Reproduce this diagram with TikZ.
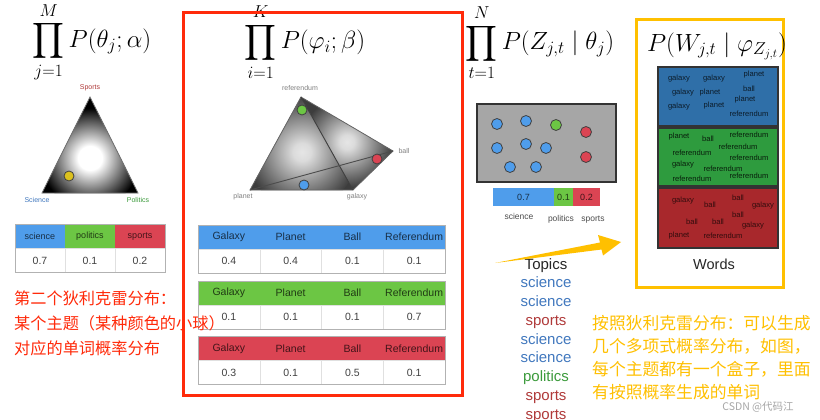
\documentclass[tikz,border=0pt]{standalone}
\usepackage{amsmath}
\usepackage[no-math]{fontspec}
\setmainfont{Liberation Sans}
\newfontfamily\cjk{Noto Sans CJK SC}
\usepackage{tikz}
\usetikzlibrary{positioning,calc}
\definecolor{BlueHead}{HTML}{4F9DEB}
\definecolor{GreenHead}{HTML}{6CC644}
\definecolor{RedHead}{HTML}{DB4453}
\definecolor{DotYellow}{HTML}{DCC11E}
\definecolor{FrameRed}{HTML}{FF2A0A}
\definecolor{FrameYellow}{HTML}{FFC000}
\definecolor{BoxGray}{HTML}{A6A6A6}
\definecolor{WordBlue}{HTML}{2F6FA8}
\definecolor{WordGreen}{HTML}{2E9B3E}
\definecolor{WordRed}{HTML}{A8282C}
\definecolor{TopicBlue}{HTML}{4178BE}
\definecolor{TopicRed}{HTML}{B03A3A}
\definecolor{TopicGreen}{HTML}{3C9B3C}
\pgfdeclareradialshading{simplexglow}{\pgfpoint{0bp}{0bp}}{color(0bp)=(white); color(6bp)=(white);
  color(25bp)=(black); color(50bp)=(black)}
\pgfdeclareradialshading{faceglow}{\pgfpoint{0bp}{0bp}}{color(0bp)=(black!10); color(4bp)=(black!14);
  color(25bp)=(black!76); color(50bp)=(black!76)}
\tikzset{
  formula/.style={inner sep=0, font=\fontsize{24.5}{30}\selectfont},
  hcell/.style={minimum height=24, inner sep=0, outer sep=0,
    font=\fontsize{10.5}{12}\selectfont},
  vcell/.style={hcell, draw=black!12, fill=white, text=black!75},
  tabframe/.style={draw=black!30, line width=.9pt},
  dot/.style={circle, draw=black!75, line width=.8pt, minimum size=10, inner sep=0},
  vertex/.style={inner sep=0, font=\fontsize{7}{8}\selectfont},
  wordbox/.style={draw=black!80, line width=2pt, minimum width=120, inner sep=0},
  word/.style={inner sep=0, font=\fontsize{7.6}{8}\selectfont},
  topic/.style={anchor=base, inner sep=0, font=\fontsize{15}{17}\selectfont},
  note/.style={anchor=north west, inner sep=0, align=left}
}

\begin{document}
\begin{tikzpicture}[x=1pt, y=-1pt]
  \useasboundingbox (0,0) rectangle (820,420);
  \fill[white] (0,0) rectangle (820,420);

  % first Dirichlet: topic simplex
  \node[formula] (fa) at (92,42) {$\displaystyle\prod_{j=1}^{M} P(\theta_j;\alpha)$};
  \coordinate (sa) at (90,97);
  \coordinate (sb) at (42,193);
  \coordinate (sc) at (138,193);
  \begin{scope}
    \clip (sa) -- (sb) -- (sc) -- cycle;
    \fill[black] (sa) -- (sb) -- (sc) -- cycle;
    \shade[shading=simplexglow] (90,158) circle (50);
  \end{scope}
  \draw[black!55, line width=.8pt] (sa) -- (sb) -- (sc) -- cycle;
  \node[vertex, text=TopicRed] (lsp) at (90,88) {Sports};
  \node[vertex, text=TopicBlue] (lsc) at (37,200) {Science};
  \node[vertex, text=TopicGreen] (lpo) at (138,200) {Politics};
  \node[dot, fill=DotYellow] (ydot) at (69,176) {};

  \foreach \nm/\val/\col [count=\k] in {science/0.7/BlueHead,politics/0.1/GreenHead,sports/0.2/RedHead}{
    \node[hcell, minimum width=50, fill=\col, text=\col!30!black,
      font=\fontsize{9}{11}\selectfont] (sh\k) at ({50*\k-10},236.5) {\nm};
    \node[vcell, minimum width=50] (sv\k) at ({50*\k-10},260.5) {\val};
  }
  \draw[tabframe] (sh1.north west) rectangle (sv3.south east);

  % second Dirichlet: word simplex
  \node[formula] (fb) at (305,42) {$\displaystyle\prod_{i=1}^{K} P(\varphi_i;\beta)$};
  \coordinate (tref) at (301,97);
  \coordinate (tpla) at (250,190);
  \coordinate (tgal) at (353,190);
  \coordinate (tbal) at (393,151);
  \begin{scope}
    \clip (tref) -- (tbal) -- (tgal) -- cycle;
    \fill[black!76] (tref) -- (tbal) -- (tgal) -- cycle;
    \shade[shading=faceglow] (347,142) circle (46);
  \end{scope}
  \begin{scope}
    \clip (tpla) -- (tref) -- (tgal) -- cycle;
    \fill[black!76] (tpla) -- (tref) -- (tgal) -- cycle;
    \shade[shading=faceglow] (302,152) circle (56);
  \end{scope}
  \draw[black!60, line width=.8pt] (tpla) -- (tref) -- (tbal) -- (tgal) -- cycle;
  \draw[black!75, line width=.9pt] (tref) -- (tgal);
  \draw[black!70, line width=.9pt] (tpla) -- (tbal);
  \node[vertex, text=black!50] (lref) at (300,88) {referendum};
  \node[vertex, text=black!50] (lpla) at (243,197) {planet};
  \node[vertex, text=black!50] (lgal) at (357,197) {galaxy};
  \node[vertex, text=black!50] (lbal) at (404,151) {ball};
  \node[dot, fill=GreenHead] (gdot) at (302,110) {};
  \node[dot, fill=RedHead] (rdot) at (377,159) {};
  \node[dot, fill=BlueHead] (bdot) at (304,185) {};

  \foreach \col/\ty/\va/\vb/\vc/\vd [count=\t] in
      {BlueHead/225/0.4/0.4/0.1/0.1, GreenHead/281/0.1/0.1/0.1/0.7, RedHead/336.5/0.3/0.1/0.5/0.1}{
    \foreach \w/\v [count=\k] in {Galaxy/\va,Planet/\vb,Ball/\vc,Referendum/\vd}{
      \node[hcell, minimum width=61.75, fill=\col, text=\col!30!black]
        (h\t\k) at ({198+61.75*(\k-0.5)},{\ty+12}) {\w};
      \node[vcell, minimum width=61.75] (v\t\k) at ({198+61.75*(\k-0.5)},{\ty+36}) {\v};
    }
    \draw[tabframe] (h\t1.north west) rectangle (v\t4.south east);
  }
  \draw[FrameRed, line width=3pt] (183,13) rectangle (462,395);

  % topic assignment per word
  \node[formula] (fc) at (540,43) {$\displaystyle\prod_{t=1}^{N} P(Z_{j,t}\mid\theta_j)$};
  \node[draw=black!80, line width=2pt, fill=BoxGray, minimum width=139, minimum height=78,
    inner sep=0] (topicbox) at (546.5,143) {};
  \foreach \px/\py/\col [count=\k] in {497/124/BlueHead, 526/121/BlueHead, 556/125/GreenHead,
      586/132/RedHead, 497/148/BlueHead, 526/144/BlueHead, 546/148/BlueHead,
      586/157/RedHead, 510/167/BlueHead, 536/167/BlueHead}
    \node[dot, fill=\col, minimum size=11] (z\k) at (\px,\py) {};
  \node[hcell, minimum width=61, minimum height=18, fill=BlueHead, text=BlueHead!30!black,
    font=\fontsize{9}{10}\selectfont] (pb) at (523.5,197) {0.7};
  \node[hcell, minimum width=19, minimum height=18, fill=GreenHead, text=GreenHead!30!black,
    font=\fontsize{9}{10}\selectfont, right=0pt of pb] (pg) {0.1};
  \node[hcell, minimum width=27, minimum height=18, fill=RedHead, text=RedHead!30!black,
    font=\fontsize{9}{10}\selectfont, right=0pt of pg] (pr) {0.2};
  \node[vertex, anchor=base, text=black!70, font=\fontsize{8.5}{9}\selectfont] (bsc) at (519,219) {science};
  \node[vertex, anchor=base, text=black!70, font=\fontsize{8.5}{9}\selectfont] (bpo) at (561,221) {politics};
  \node[vertex, anchor=base, text=black!70, font=\fontsize{8.5}{9}\selectfont] (bsp) at (593,221) {sports};

  \node[topic, text=black!85] (topics) at (546,269.5) {Topics};
  \foreach \w/\c [count=\k] in {science/TopicBlue,science/TopicBlue,sports/TopicRed,science/TopicBlue,
      science/TopicBlue,politics/TopicGreen,sports/TopicRed,sports/TopicRed}
    \node[topic, text=\c] (topic\k) at (546,{269+18.75*\k}) {\w};

  % arrow to the words
  \coordinate (arrtail) at (495,263);
  \coordinate (arrtip) at (621,242);
  \fill[FrameYellow] (arrtail) -- (600,242.5) -- (598,235) -- (arrtip) -- (603,255.5)
    -- (601.5,249.5) -- cycle;

  % words drawn from each topic
  \draw[FrameYellow, line width=3pt] (636,20) rectangle (783,287);
  \node[formula] (fd) at (717,46) {$P(W_{j,t}\mid\varphi_{Z_{j,t}})$};
  \node[wordbox, fill=WordBlue, minimum height=59] (wblue) at (718,96.5) {};
  \node[wordbox, fill=WordGreen, minimum height=58] (wgreen) at (718,156.7) {};
  \node[wordbox, fill=WordRed, minimum height=60.5] (wred) at (718,218) {};
  \foreach \px/\py/\w [count=\k] in {679/79/galaxy, 714/79/galaxy, 754/75/planet, 683/93/galaxy,
      710/93/planet, 749/89/ball, 745/100/planet, 679/107/galaxy, 714/106/planet, 749/114/referendum}
    \node[word, text=WordBlue!25!black] (wb\k) at (\px,\py) {\w};
  \foreach \px/\py/\w [count=\k] in {679/137/planet, 708/139/ball, 749/135/referendum,
      738/147/referendum, 692/153/referendum, 749/158/referendum, 683/165/galaxy,
      723/169/referendum, 692/179/referendum, 749/176/referendum}
    \node[word, text=WordGreen!20!black] (wg\k) at (\px,\py) {\w};
  \foreach \px/\py/\w [count=\k] in {683/201/galaxy, 710/205/ball, 738/198/ball, 763/206/galaxy,
      738/215/ball, 692/222/ball, 718/222/ball, 753/226/galaxy, 679/236/planet, 723/236/referendum}
    \node[word, text=WordRed!30!black] (wr\k) at (\px,\py) {\w};
  \node[topic, text=black!85, font=\fontsize{14.5}{16}\selectfont] (words) at (714,269) {Words};

  % notes
  \node[note, text=FrameRed, font=\cjk\fontsize{16.2}{25}\selectfont] (redtxt) at (14,290.5)
    {第二个狄利克雷分布：\\某个主题（某种颜色的小球）\\对应的单词概率分布};
  \node[note, text=FrameYellow, font=\cjk\fontsize{16.8}{23}\selectfont] (yeltxt) at (592,315.5)
    {按照狄利克雷分布：可以生成\\几个多项式概率分布，如图，\\每个主题都有一个盒子，里面\\有按照概率生成的单词};
  \node[inner sep=0, text=black!35, font=\cjk\fontsize{10.5}{12}\selectfont] (mark) at (758,407) {CSDN @代码江};
\end{tikzpicture}
\end{document}
